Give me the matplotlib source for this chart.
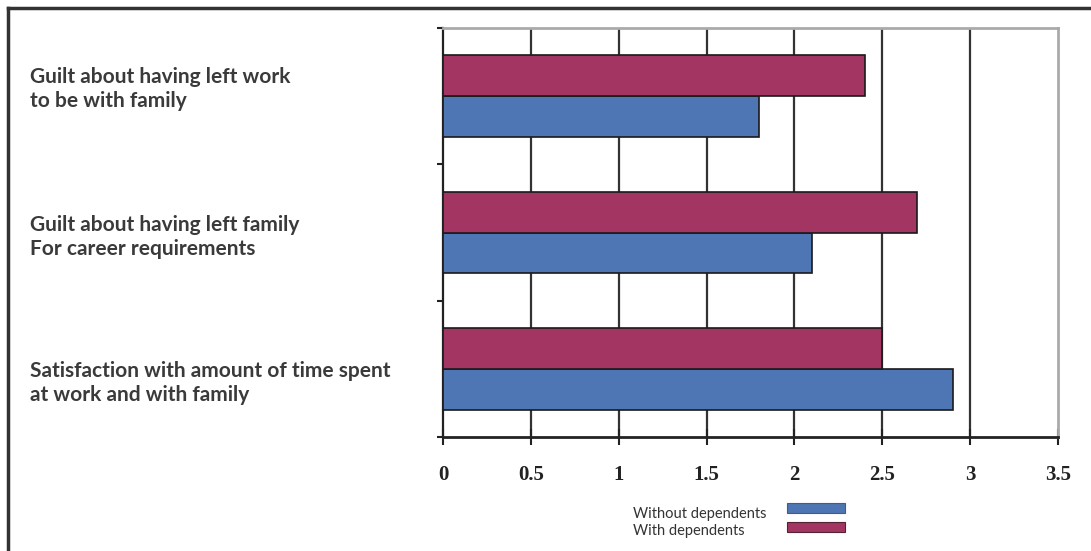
import matplotlib.pyplot as plt
import numpy as np
from matplotlib.patches import Rectangle
from matplotlib.lines import Line2D

# Mean scores per statement, bottom to top
categories = [
    "Satisfaction with amount of time spent\nat work and with family",
    "Guilt about having left family\nFor career requirements",
    "Guilt about having left work\nto be with family",
]
without_dependents = [2.9, 2.1, 1.8]
with_dependents = [2.5, 2.7, 2.4]
series_names = ["Without dependents", "With dependents"]
x_ticks = [0, 0.5, 1, 1.5, 2, 2.5, 3, 3.5]
x_tick_labels = ["0", "0.5", "1", "1.5", "2", "2.5", "3", "3.5"]

BLUE = "#4e76b4"
MAGENTA = "#a33562"

W, H = 1091, 551
fig = plt.figure(figsize=(W / 100, H / 100), dpi=100)
ax = fig.add_axes([443 / W, 1 - 437 / H, (1058 - 443) / W, (437 - 28) / H])

y = np.arange(len(categories))
h = 0.3
ax.barh(y - h / 2, without_dependents, height=h, color=BLUE,
        edgecolor="#1a1a1a", linewidth=1.2, zorder=3)
ax.barh(y + h / 2, with_dependents, height=h, color=MAGENTA,
        edgecolor="#1a1a1a", linewidth=1.2, zorder=3)

ax.set_xlim(0, 3.5)
ax.set_ylim(-0.5, 2.5)

# vertical gridlines
for t in x_ticks[1:-1]:
    ax.axvline(t, color="#333333", linewidth=1.6, zorder=1)

ax.set_xticks(x_ticks)
ax.set_xticklabels(x_tick_labels, family="Liberation Serif",
                   fontsize=15, fontweight="bold", color="#222222")
ax.tick_params(axis="x", direction="inout", length=12, width=1.5,
               color="#222222", pad=14)

ax.set_yticks([-0.5, 0.5, 1.5, 2.5])
ax.set_yticklabels([])
ax.tick_params(axis="y", direction="out", length=4, width=1.5, color="#222222")

for side in ["top", "right"]:
    ax.spines[side].set_color("#aaaaaa")
    ax.spines[side].set_linewidth(2)
ax.spines["left"].set_color("#222222")
ax.spines["left"].set_linewidth(1.6)
ax.spines["bottom"].set_color("#222222")
ax.spines["bottom"].set_linewidth(2)

# category labels on the left
label_y = [383, 237, 89]
for cat, py in zip(categories, label_y):
    fig.text(30 / W, 1 - py / H, cat, family="Lato",
             fontweight="bold", fontsize=15, color="#3a3a3a",
             va="center", ha="left", linespacing=1.3)

# legend: label on the left, swatch on the right
legend_rows = [(BLUE, "#555577", 508, 514), (MAGENTA, "#552233", 527, 531)]
for name, (fc, ec, py, ty) in zip(series_names, legend_rows):
    fig.text(633 / W, 1 - ty / H, name, family="Lato", fontsize=10.5,
             color="#333333", va="center", ha="left")
    fig.add_artist(Rectangle((787 / W, 1 - (py + 5) / H), 58 / W, 10 / H,
                             transform=fig.transFigure, facecolor=fc,
                             edgecolor=ec, linewidth=0.8))

# outer frame (left and top edges)
fig.add_artist(Line2D([8 / W, 8 / W], [0, 1 - 8 / H],
                      transform=fig.transFigure, color="#333333", linewidth=2.5))
fig.add_artist(Line2D([8 / W, 1], [1 - 8 / H, 1 - 8 / H],
                      transform=fig.transFigure, color="#333333", linewidth=2.5))

fig.savefig("out.png", dpi=100)
